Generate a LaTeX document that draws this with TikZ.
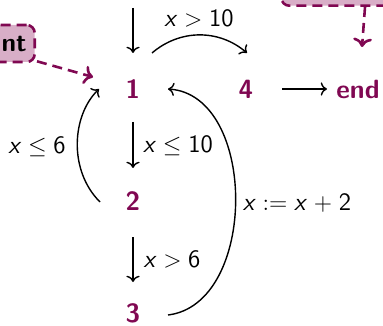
\documentclass[tikz,border=0pt]{standalone}
\usetikzlibrary{arrows.meta}
\definecolor{alertpurple}{RGB}{128,8,82}
\definecolor{boxfill}{RGB}{216,174,199}
\newcommand{\vx}{\textit{x}}
\tikzset{
  num/.style={font=\fontsize{13.2}{15}\selectfont\sffamily\bfseries, text=alertpurple, inner sep=0pt},
  lbl/.style={font=\fontsize{12.5}{15}\selectfont\sffamily, inner sep=0pt},
  arr/.style={-{To}, line width=0.7pt},
  cbox/.style={draw=alertpurple, fill=boxfill, line width=1.3pt, dash pattern=on 5pt off 3pt, rounded corners=4pt},
  dasharr/.style={-{To}, draw=alertpurple, line width=1.3pt, dash pattern=on 5pt off 3pt}
}
\begin{document}
\begin{tikzpicture}[x=0.5pt,y=-0.5pt]
\useasboundingbox (0,0) rectangle (383,325);
% states
\node[num] (n1) at (133,89) {1};
\node[num] (n4) at (246,89) {4};
\node[num] (nend) at (358,89) {end};
\node[num] (n2) at (133,201) {2};
\node[num] (n3) at (133,313) {3};
% comment boxes
\node[cbox, anchor=east, text width=40pt, align=right, inner xsep=4pt, minimum height=18.5pt,
      font=\fontsize{13}{15}\selectfont\sffamily\bfseries] (boxl) at (36,43.5) {nt};
\node[cbox, anchor=south west, minimum width=90pt, minimum height=22pt] (boxr) at (280,7) {};
% connectors
\coordinate (top) at (133,8);
\draw[arr] (top) -- ([shift={(0,-36)}]n1.center);
\draw[arr] ([shift={(19,-36)}]n1.center) .. controls +(28,-24) and +(-28,-24) .. ([shift={(1,-36)}]n4.center);
\draw[arr] ([shift={(36,0)}]n4.center) -- ([shift={(-31,0)}]nend.center);
\draw[arr] ([shift={(0,33)}]n1.center) -- ([shift={(0,-33)}]n2.center);
\draw[arr] ([shift={(0,36)}]n2.center) -- ([shift={(0,-31)}]n3.center);
\draw[arr] ([shift={(-33,1)}]n2.center) .. controls +(-32,-32) and +(-27,26) .. ([shift={(-34,0)}]n1.center);
\draw[arr] ([shift={(35,2)}]n3.center) .. controls +(90,-11) and +(90,6) .. ([shift={(35,0)}]n1.center);
\draw[dasharr] ([shift={(1,-2)}]boxl.south east) -- ([shift={(-40,-12)}]n1.center);
\draw[dasharr] ([shift={(85,0)}]boxr.south west) -- ([shift={(4,-42)}]nend.center);
% labels
\node[lbl] (l1) at (199,18) {\vx$\;>\;$10};
\node[lbl] (l2) at (178,146) {\vx$\;\le\;$10};
\node[lbl] (l3) at (172,259) {\vx$\;>\;$6};
\node[lbl] (l4) at (37,147) {\vx$\;\le\;$6};
\node[lbl] (l5) at (297,203) {\vx$\;:=\;$\vx$\;+\;$2};
\end{tikzpicture}
\end{document}
